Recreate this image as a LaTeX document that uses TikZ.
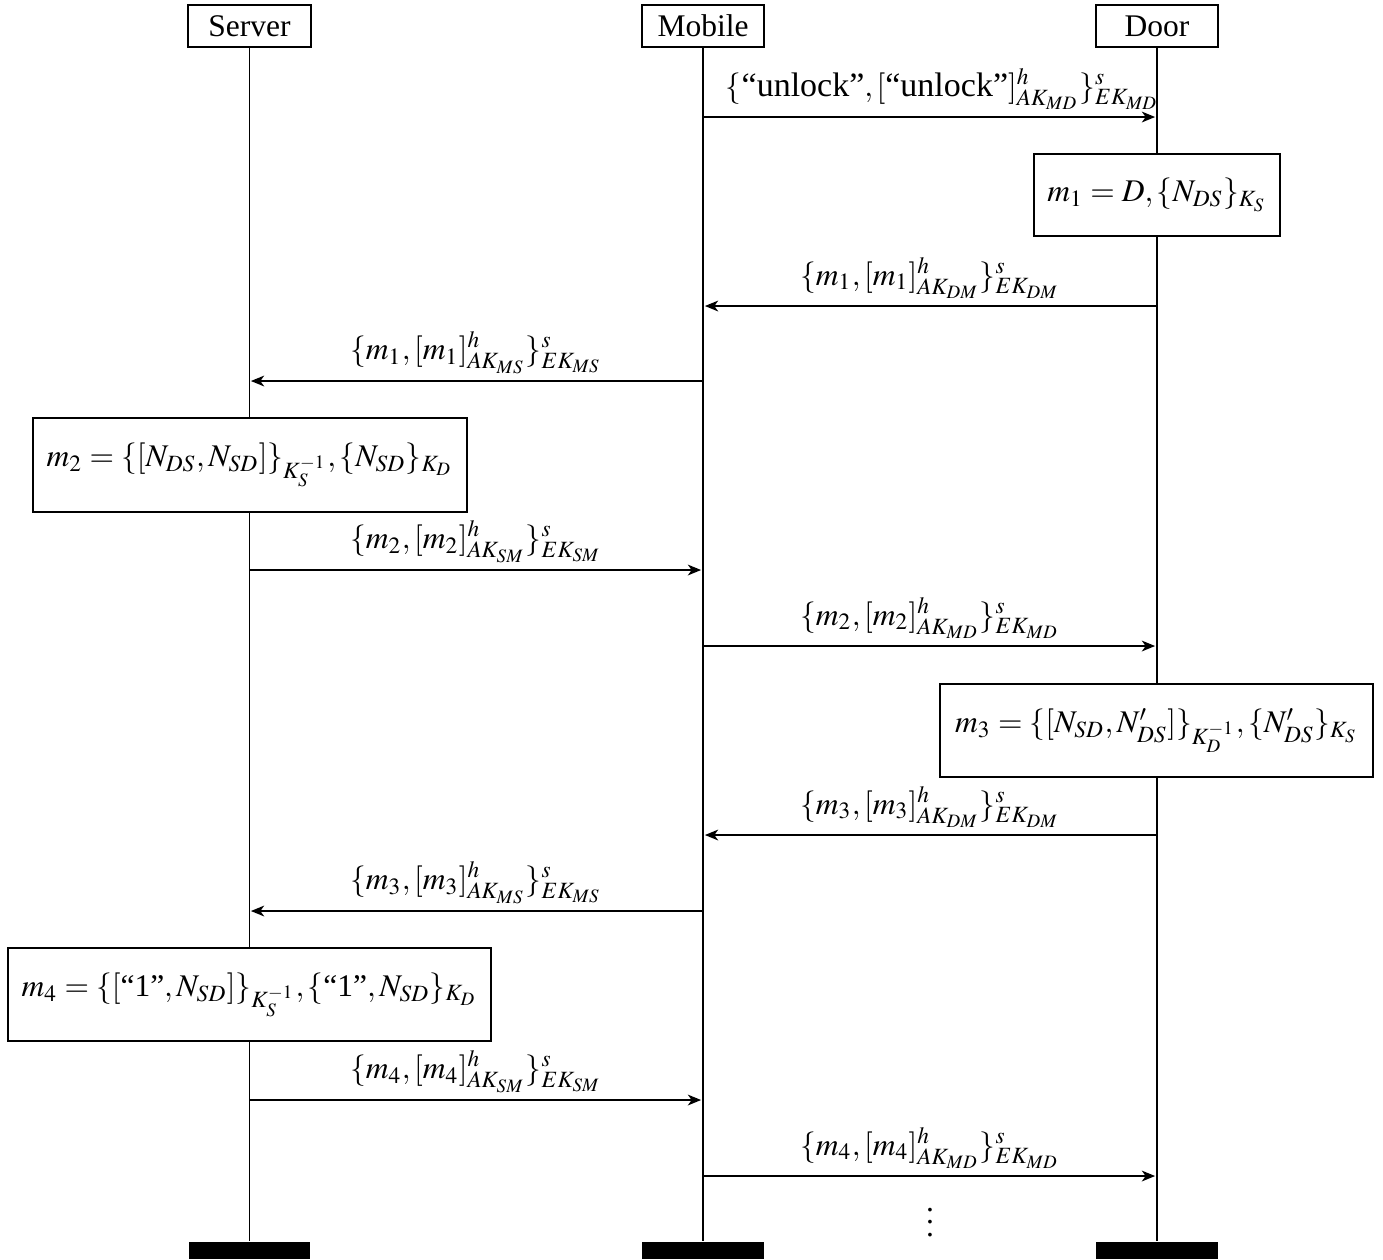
\documentclass[tikz,border=0pt]{standalone}
\usepackage{amsmath}
\usepackage{mathptmx}
\usepackage{fontspec}
\setmainfont{Liberation Serif}
\usetikzlibrary{arrows.meta}
\newcommand{\ulk}{\text{\fontsize{10.8pt}{13pt}\selectfont``unlock''}}
\begin{document}
\begin{tikzpicture}[x=0.3175pt,y=-0.3175pt,line width=0.6pt,
  inst/.style={draw,fill=white,minimum width=39pt,minimum height=13.3pt,inner sep=0pt,font=\normalsize},
  endbar/.style={fill=black,draw=none,minimum width=38.7pt,minimum height=5.4pt,inner sep=0pt},
  act/.style={draw,fill=white,inner sep=0pt},
  msg/.style={-{Stealth[length=4.2pt,width=3.4pt,inset=1.2pt]},shorten >=0.6pt},
  lbl/.style={anchor=south,inner sep=2pt}]
\useasboundingbox (0,0) rectangle (1383,1259);
% instance heads and ends
\node[inst] (S) at (249.5,26) {Server};
\node[inst] (M) at (703,26) {Mobile};
\node[inst] (D) at (1157,26) {Door};
\node[endbar] (Se) at (249.5,1250.5) {};
\node[endbar] (Me) at (703,1250.5) {};
\node[endbar] (De) at (1157,1250.5) {};
% lifelines
\draw (S.south) -- (Se.north);
\draw (M.south) -- (Me.north);
\draw (D.south) -- (De.north);
% action boxes
\node[act,minimum width=78.1pt,minimum height=26pt] (a1) at (1157,195) {$m_1 = D,\{N_{DS}\}_{K_S}$};
\node[act,minimum width=137.8pt,minimum height=29.8pt] (a2) at (250,465) {$m_2 = \{[N_{DS},N_{SD}]\}_{K_S^{-1}},\{N_{SD}\}_{K_D}$};
\node[act,minimum width=137.5pt,minimum height=29.5pt] (a3) at (1156.5,730.5) {$m_3 = \{[N_{SD},N'_{DS}]\}_{K_D^{-1}},\{N'_{DS}\}_{K_S}$};
\node[act,minimum width=153.4pt,minimum height=29.5pt] (a4) at (249.5,994.5) {$m_4 = \{[\text{``1''},N_{SD}]\}_{K_S^{-1}},\{\text{``1''},N_{SD}\}_{K_D}$};
% message end points
\coordinate (m1a) at (703,117);  \coordinate (d1a) at (1157,117);
\coordinate (d3a) at (1157,306); \coordinate (m3a) at (703,306);
\coordinate (m4a) at (703,381);  \coordinate (s4a) at (249,381);
\coordinate (s6a) at (249,570);  \coordinate (m6a) at (703,570);
\coordinate (m7a) at (703,646);  \coordinate (d7a) at (1157,646);
\coordinate (d9a) at (1157,835); \coordinate (m9a) at (703,835);
\coordinate (m10a) at (703,911); \coordinate (s10a) at (249,911);
\coordinate (s12a) at (249,1100);\coordinate (m12a) at (703,1100);
\coordinate (m13a) at (703,1176);\coordinate (d13a) at (1157,1176);
% messages
\draw[msg] (m1a) -- node[lbl,xshift=4pt]{$\{\ulk,[\ulk]^h_{AK_{MD}}\}^s_{EK_{MD}}$} (d1a);
\draw[msg] (d3a) -- node[lbl]{$\{m_1,[m_1]^h_{AK_{DM}}\}^s_{EK_{DM}}$} (m3a);
\draw[msg] (m4a) -- node[lbl]{$\{m_1,[m_1]^h_{AK_{MS}}\}^s_{EK_{MS}}$} (s4a);
\draw[msg] (s6a) -- node[lbl]{$\{m_2,[m_2]^h_{AK_{SM}}\}^s_{EK_{SM}}$} (m6a);
\draw[msg] (m7a) -- node[lbl]{$\{m_2,[m_2]^h_{AK_{MD}}\}^s_{EK_{MD}}$} (d7a);
\draw[msg] (d9a) -- node[lbl]{$\{m_3,[m_3]^h_{AK_{DM}}\}^s_{EK_{DM}}$} (m9a);
\draw[msg] (m10a) -- node[lbl]{$\{m_3,[m_3]^h_{AK_{MS}}\}^s_{EK_{MS}}$} (s10a);
\draw[msg] (s12a) -- node[lbl]{$\{m_4,[m_4]^h_{AK_{SM}}\}^s_{EK_{SM}}$} (m12a);
\draw[msg] (m13a) -- node[lbl]{$\{m_4,[m_4]^h_{AK_{MD}}\}^s_{EK_{MD}}$} (d13a);
\node[inner sep=0pt] (dots) at (930,1213) {$\vdots$};
\end{tikzpicture}
\end{document}
